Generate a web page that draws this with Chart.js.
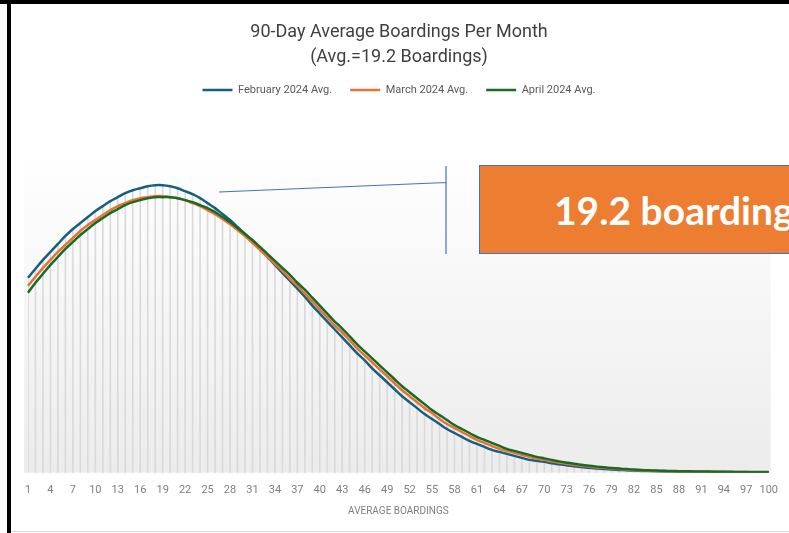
<!DOCTYPE html>
<html>
<head>
<meta charset="utf-8">
<title>90-Day Average Boardings Per Month</title>
<script src="https://cdn.jsdelivr.net/npm/chart.js@4.4.1/dist/chart.umd.min.js"></script>
<style>
  body { margin: 0; width: 789px; height: 533px; overflow: hidden; position: relative; background: #fff; }
  #wrap { position: absolute; left: 0; top: 0; width: 789px; height: 533px; }
  .edge { position: absolute; background: #000; }
  #callout {
    position: absolute; left: 479px; top: 165px; width: 330px; height: 89px;
    background: #ED7D31; border: 1px solid #4472C4; box-sizing: border-box;
    display: flex; align-items: center; padding-left: 74px;
    color: #fff; font: bold 39px Lato, "Open Sans", sans-serif; white-space: nowrap;
  }
</style>
</head>
<body>
<div id="wrap"><canvas id="chart"></canvas></div>
<div class="edge" style="left:0; top:0; width:789px; height:4px;"></div>
<div class="edge" style="left:7px; top:0; width:4px; height:533px;"></div>
<div style="position:absolute; left:11px; top:531px; width:778px; height:1px; background:#d9d9d9;"></div>
<div id="callout">19.2 boardings</div>
<script>
// x categories: average boardings 1..100
const categories = Array.from({ length: 100 }, (_, i) => String(i + 1));

// share of riders per average-boardings value (relative units)
const feb2024 = [
  1.96, 2.05, 2.14, 2.22, 2.30, 2.38, 2.45, 2.51, 2.57, 2.63,
  2.68, 2.73, 2.77, 2.81, 2.84, 2.86, 2.88, 2.89, 2.89, 2.88,
  2.86, 2.83, 2.80, 2.76, 2.71, 2.66, 2.60, 2.54, 2.47, 2.40,
  2.33, 2.25, 2.17, 2.09, 2.01, 1.93, 1.85, 1.77, 1.68, 1.60,
  1.52, 1.44, 1.36, 1.28, 1.20, 1.13, 1.05, 0.98, 0.91, 0.84,
  0.77, 0.71, 0.65, 0.59, 0.54, 0.49, 0.44, 0.40, 0.36, 0.32,
  0.29, 0.26, 0.23, 0.21, 0.19, 0.17, 0.15, 0.13, 0.12, 0.11,
  0.095, 0.085, 0.075, 0.065, 0.058, 0.050, 0.044, 0.038, 0.033, 0.029,
  0.025, 0.022, 0.019, 0.017, 0.015, 0.013, 0.012, 0.011, 0.010, 0.009,
  0.0085, 0.008, 0.0075, 0.007, 0.0065, 0.006, 0.0055, 0.005, 0.005, 0.0045
];
const mar2024 = [
  1.88, 1.97, 2.06, 2.14, 2.22, 2.29, 2.36, 2.43, 2.49, 2.54,
  2.59, 2.64, 2.68, 2.71, 2.74, 2.76, 2.77, 2.78, 2.78, 2.77,
  2.76, 2.74, 2.71, 2.68, 2.64, 2.60, 2.55, 2.50, 2.44, 2.38,
  2.31, 2.24, 2.17, 2.10, 2.03, 1.95, 1.88, 1.80, 1.72, 1.64,
  1.56, 1.48, 1.41, 1.33, 1.25, 1.18, 1.11, 1.04, 0.97, 0.90,
  0.83, 0.77, 0.71, 0.65, 0.60, 0.54, 0.49, 0.45, 0.41, 0.37,
  0.33, 0.30, 0.27, 0.24, 0.22, 0.20, 0.18, 0.16, 0.14, 0.13,
  0.115, 0.102, 0.090, 0.080, 0.070, 0.062, 0.054, 0.048, 0.042, 0.037,
  0.032, 0.028, 0.024, 0.021, 0.019, 0.017, 0.015, 0.014, 0.013, 0.012,
  0.011, 0.010, 0.009, 0.0085, 0.008, 0.0075, 0.007, 0.0065, 0.006, 0.0055
];
const apr2024 = [
  1.81, 1.91, 2.00, 2.09, 2.17, 2.25, 2.32, 2.39, 2.45, 2.51,
  2.56, 2.61, 2.65, 2.69, 2.72, 2.74, 2.76, 2.77, 2.77, 2.77,
  2.76, 2.74, 2.72, 2.69, 2.66, 2.62, 2.57, 2.52, 2.46, 2.40,
  2.34, 2.27, 2.20, 2.13, 2.06, 1.99, 1.91, 1.84, 1.76, 1.68,
  1.60, 1.52, 1.45, 1.37, 1.29, 1.22, 1.15, 1.08, 1.01, 0.94,
  0.87, 0.81, 0.75, 0.69, 0.63, 0.58, 0.53, 0.48, 0.44, 0.40,
  0.36, 0.33, 0.30, 0.27, 0.24, 0.22, 0.20, 0.18, 0.16, 0.145,
  0.13, 0.115, 0.102, 0.090, 0.080, 0.070, 0.062, 0.055, 0.048, 0.042,
  0.037, 0.032, 0.028, 0.025, 0.022, 0.020, 0.018, 0.016, 0.015, 0.014,
  0.013, 0.012, 0.011, 0.010, 0.0095, 0.009, 0.0085, 0.008, 0.0075, 0.007
];

const seriesNames = ['February 2024 Avg.', 'March 2024 Avg.', 'April 2024 Avg.'];
const titleLines = ['90-Day Average Boardings Per Month', '(Avg.=19.2 Boardings)'];

// drop lines reach the highest curve at each category
const dropLines = categories.map((_, i) => Math.max(feb2024[i], mar2024[i], apr2024[i]));

// soft grey gradient behind the plot
const plotBackground = {
    id: 'plotBackground',
    beforeDatasetsDraw(chart) {
        const { ctx, chartArea: a } = chart;
        const g = ctx.createLinearGradient(0, a.top, 0, a.bottom);
        g.addColorStop(0, '#ffffff');
        g.addColorStop(1, '#ececec');
        ctx.save();
        ctx.fillStyle = g;
        ctx.fillRect(a.left - 4, a.top, a.right - a.left + 6, a.bottom - a.top);
        ctx.restore();
    }
};

// thin blue leader line toward the callout box
const leaderLine = {
    id: 'leaderLine',
    afterDraw(chart) {
        const ctx = chart.ctx;
        ctx.save();
        ctx.strokeStyle = '#4472C4';
        ctx.lineWidth = 1.2;
        ctx.beginPath();
        ctx.moveTo(219, 192);
        ctx.lineTo(446, 182.5);
        ctx.moveTo(446, 166);
        ctx.lineTo(446, 254);
        ctx.stroke();
        ctx.restore();
    }
};

// extra room under the legend
const legendGap = {
    id: 'legendGap',
    beforeInit(chart) {
        const fit = chart.legend.fit;
        chart.legend.fit = function () {
            fit.bind(this)();
            this.height += 46;
        };
    }
};

const lineStyle = (color, order) => ({
    type: 'line',
    borderColor: color,
    backgroundColor: color,
    borderWidth: 2.5,
    pointRadius: 0,
    tension: 0.4,
    fill: false,
    order: order
});

const ctx = document.getElementById('chart').getContext('2d');
const chart = new Chart(ctx, {
    data: {
        labels: categories,
        datasets: [
            { label: seriesNames[0], data: feb2024, ...lineStyle('#156082', 3) },
            { label: seriesNames[1], data: mar2024, ...lineStyle('#E97132', 2) },
            { label: seriesNames[2], data: apr2024, ...lineStyle('#196B24', 1) },
            {
                type: 'bar',
                label: 'drop',
                data: dropLines,
                backgroundColor: '#dadada',
                barThickness: 1,
                order: 10
            }
        ]
    },
    options: {
        responsive: true,
        maintainAspectRatio: false,
        animation: false,
        layout: { padding: { left: 28, right: 19, top: 0, bottom: 12 } },
        plugins: {
            title: {
                display: true,
                text: titleLines,
                color: '#404040',
                font: { family: 'Roboto', size: 18, weight: 'normal', lineHeight: 1.4 },
                padding: { top: 20, bottom: -4 }
            },
            legend: {
                labels: {
                    filter: item => item.text !== 'drop',
                    sort: (a, b) => a.datasetIndex - b.datasetIndex,
                    usePointStyle: true,
                    pointStyle: 'line',
                    pointStyleWidth: 30,
                    padding: 18,
                    color: '#595959',
                    font: { family: 'Roboto', size: 11 }
                }
            },
            tooltip: { enabled: false }
        },
        scales: {
            x: {
                offset: false,
                grid: { display: false, drawTicks: false },
                border: { display: false },
                ticks: {
                    autoSkip: false,
                    maxRotation: 0,
                    padding: 11,
                    color: '#7f7f7f',
                    font: { family: 'Roboto', size: 11 },
                    callback: (value, index) => index % 3 === 0 ? categories[index] : null
                },
                title: {
                    display: true,
                    text: 'AVERAGE BOARDINGS',
                    color: '#7f7f7f',
                    font: { family: 'Roboto', size: 10 },
                    padding: { top: -3, bottom: 4 }
                }
            },
            y: {
                display: false,
                min: 0,
                max: 3.23
            }
        }
    },
    plugins: [plotBackground, leaderLine, legendGap]
});
</script>
</body>
</html>
